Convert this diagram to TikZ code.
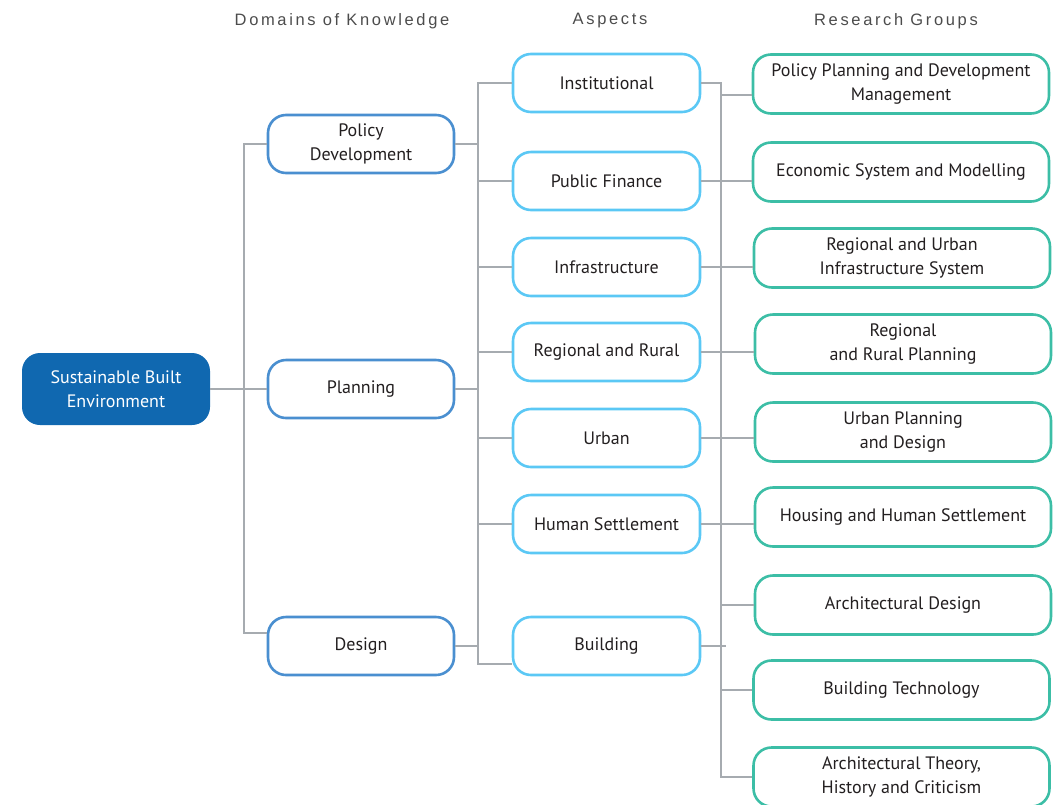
\documentclass[tikz,border=0pt]{standalone}
\usepackage{fontspec}
\setmainfont{PT Sans}
\newfontfamily\headfont[LetterSpace=16]{Liberation Sans}
\usepackage{tikz}
\usetikzlibrary{calc}
\definecolor{rootblue}{HTML}{1068B0}
\definecolor{domblue}{HTML}{4A8FD0}
\definecolor{aspblue}{HTML}{5BC8F5}
\definecolor{grpteal}{HTML}{3CBEA6}
\definecolor{linegray}{HTML}{A6ABB0}
\definecolor{txtdark}{HTML}{231F20}

\begin{document}
\begin{tikzpicture}[x=1pt,y=-1pt,
	box/.style={rounded corners=18pt,line width=2.6pt,align=center,text=txtdark,
		font=\fontsize{18}{24}\selectfont,minimum height=58pt,inner sep=2pt},
	rootbox/.style={box,fill=rootblue,text=white,minimum width=188pt,minimum height=72pt,line width=0pt},
	dombox/.style={box,draw=domblue,minimum width=186pt},
	aspbox/.style={box,draw=aspblue,minimum width=187pt},
	grpbox/.style={box,draw=grpteal,minimum width=296pt,minimum height=59pt},
	head/.style={font=\headfont\fontsize{16.5}{18}\selectfont,text=black!70},
	conn/.style={linegray,line width=1.4pt}]
	\useasboundingbox (0,0) rectangle (1057,804);
	
	\node[head] (hd1) at (342,21) {Domains of Knowledge};
	\node[head] (hd2) at (610,21) {Aspects};
	\node[head] (hd3) at (896,21) {Research Groups};
	
	\node[rootbox] (root) at (116,389) {Sustainable Built\\Environment};
	
	\node[dombox] (pol) at (361,144) {Policy\\Development};
	\node[dombox] (pla) at (361,389) {Planning};
	\node[dombox] (des) at (361,646) {Design};
	
	\node[aspbox] (ins) at (606.5,83) {Institutional};
	\node[aspbox] (fin) at (606.5,181) {Public Finance};
	\node[aspbox] (inf) at (606.5,267) {Infrastructure};
	\node[aspbox] (reg) at (606.5,352) {Regional and Rural};
	\node[aspbox] (urb) at (606.5,438) {Urban};
	\node[aspbox] (hum) at (606.5,524) {Human Settlement};
	\node[aspbox] (bui) at (606.5,646) {Building};
	
	\node[grpbox] (g1) at (901,84) {Policy Planning and Development\\Management};
	\node[grpbox] (g2) at (901,172) {Economic System and Modelling};
	\node[grpbox] (g3) at (902,258) {Regional and Urban\\Infrastructure System};
	\node[grpbox] (g4) at (903,344) {Regional\\and Rural Planning};
	\node[grpbox] (g5) at (903,432) {Urban Planning\\and Design};
	\node[grpbox] (g6) at (903,517) {Housing and Human Settlement};
	\node[grpbox] (g7) at (903,605) {Architectural Design};
	\node[grpbox] (g8) at (901.5,690) {Building Technology};
	\node[grpbox] (g9) at (901.5,777) {Architectural Theory,\\History and Criticism};
	
	% bus lines
	\coordinate (lb) at (244,0);
	\coordinate (mb) at (478,0);
	\coordinate (rb) at (721,0);
	\coordinate (desin) at ([yshift=13pt]des.west);
	\coordinate (buiin) at ([yshift=-18pt]bui.west);
	\coordinate (g1in) at ([yshift=-11pt]g1.west);
	
	\draw[conn] (root) -- (pla);
	\draw[conn] (pol.west) -| (lb |- desin) -- (desin);
	
	\draw[conn] (ins.west) -| (mb |- buiin) -- (buiin);
	\foreach \n in {pol,pla,des}
		\draw[conn] (\n.east) -- (\n.east -| mb);
	\foreach \n in {fin,inf,reg,urb,hum}
		\draw[conn] (\n.west) -- (\n.west -| mb);
	
	\draw[conn] (ins.east) -| (rb |- g9.west) -- (g9.west);
	\draw[conn] (rb |- g1in) -- (g1in);
	\foreach \n/\m in {fin/g2,inf/g3,reg/g4,urb/g5,hum/g6}
		\draw[conn] (\n.east) -- (\n.east -| \m.west);
	\foreach \m in {g7,g8}
		\draw[conn] (rb |- \m.west) -- (\m.west);
	\draw[conn] (bui.east) -- ([xshift=5pt]rb |- bui.east);
\end{tikzpicture}
\end{document}
